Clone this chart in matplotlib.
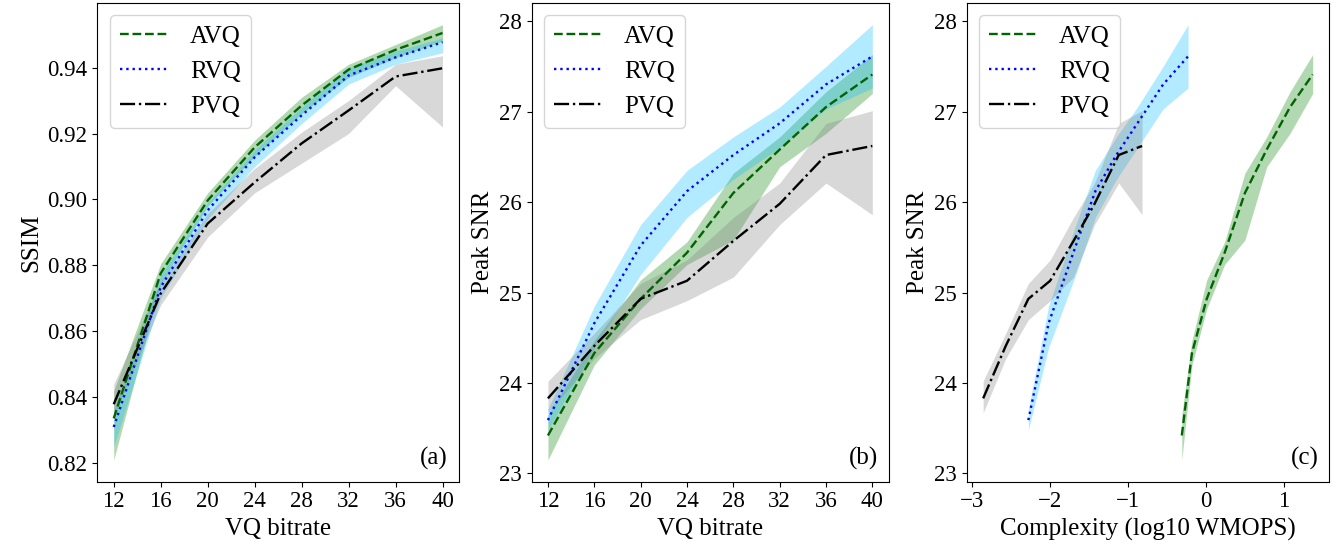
import numpy as np
import matplotlib
matplotlib.use("Agg")
import matplotlib.pyplot as plt

plt.rcParams["font.family"] = ["Liberation Serif", "DejaVu Serif"]
plt.rcParams["font.size"] = 16.5
plt.rcParams["axes.labelsize"] = 18
plt.rcParams["legend.fontsize"] = 18
plt.rcParams["axes.unicode_minus"] = True

# --- dados ---
bitrate = [12, 16, 20, 24, 28, 32, 36, 40]

# SSIM (painel a)
ssim_avq = [0.8336, 0.8776, 0.8997, 0.9158, 0.9285, 0.9394, 0.9454, 0.9505]
ssim_avq_lo = [0.821, 0.8745, 0.898, 0.913, 0.926, 0.937, 0.943, 0.948]
ssim_avq_hi = [0.842, 0.8805, 0.902, 0.918, 0.931, 0.941, 0.947, 0.953]

ssim_rvq = [0.8310, 0.8734, 0.8967, 0.9128, 0.9255, 0.9376, 0.9431, 0.9477]
ssim_rvq_lo = [0.825, 0.870, 0.894, 0.910, 0.923, 0.935, 0.941, 0.9445]
ssim_rvq_hi = [0.836, 0.877, 0.899, 0.915, 0.928, 0.940, 0.945, 0.9490]

ssim_pvq = [0.8379, 0.8715, 0.8927, 0.9052, 0.9170, 0.9270, 0.9373, 0.9398]
ssim_pvq_lo = [0.834, 0.868, 0.8886, 0.902, 0.911, 0.920, 0.9345, 0.922]
ssim_pvq_hi = [0.844, 0.875, 0.8957, 0.9094, 0.9204, 0.930, 0.941, 0.9436]

# Peak SNR (paineis b e c)
psnr_avq = [23.42, 24.33, 24.93, 25.44, 26.10, 26.58, 27.05, 27.41]
psnr_avq_lo = [23.15, 24.20, 24.82, 25.31, 25.58, 26.39, 26.76, 27.20]
psnr_avq_hi = [23.65, 24.47, 25.14, 25.56, 26.32, 26.72, 27.22, 27.63]

psnr_rvq = [23.59, 24.66, 25.52, 26.12, 26.52, 26.87, 27.30, 27.61]
psnr_rvq_lo = [23.48, 24.39, 25.20, 25.83, 26.25, 26.60, 27.03, 27.26]
psnr_rvq_hi = [23.71, 24.85, 25.75, 26.35, 26.72, 27.05, 27.50, 27.96]

psnr_pvq = [23.83, 24.41, 24.93, 25.13, 25.57, 25.98, 26.52, 26.62]
psnr_pvq_lo = [23.67, 24.27, 24.70, 24.91, 25.17, 25.75, 26.21, 25.86]
psnr_pvq_hi = [24.02, 24.55, 25.10, 25.36, 25.83, 26.21, 26.87, 27.01]

# complexidade (log10 WMOPS)
cplx_avq = [-0.31, -0.18, 0.01, 0.24, 0.50, 0.78, 1.08, 1.37]
cplx_rvq = [-2.28, -2.02, -1.67, -1.42, -1.15, -0.88, -0.55, -0.23]
cplx_pvq = [-2.86, -2.57, -2.28, -2.00, -1.70, -1.43, -1.12, -0.82]

# estilos
estilos = {
    "AVQ": dict(color="darkgreen", linestyle="--", fill="green"),
    "RVQ": dict(color="blue", linestyle=":", fill="deepskyblue"),
    "PVQ": dict(color="black", linestyle="-.", fill="gray"),
}


def desenha(ax, x_list, y_list, lo_list, hi_list):
    for nome, x, y, lo, hi in zip(["AVQ", "RVQ", "PVQ"], x_list, y_list, lo_list, hi_list):
        est = estilos[nome]
        ax.fill_between(x, lo, hi, color=est["fill"], alpha=0.3, linewidth=0)
        ax.plot(x, y, linestyle=est["linestyle"], color=est["color"], lw=1.7, label=nome)
    ax.legend(loc="upper left")


fig = plt.figure(figsize=(13.4, 5.52), dpi=100)
ax_a = fig.add_axes([0.0726, 0.1274, 0.2699, 0.8672])
ax_b = fig.add_axes([0.3968, 0.1274, 0.2663, 0.8672])
ax_c = fig.add_axes([0.7214, 0.1274, 0.2705, 0.8672])

desenha(
    ax_a,
    [bitrate] * 3,
    [ssim_avq, ssim_rvq, ssim_pvq],
    [ssim_avq_lo, ssim_rvq_lo, ssim_pvq_lo],
    [ssim_avq_hi, ssim_rvq_hi, ssim_pvq_hi],
)
ax_a.set_xticks(bitrate)
ax_a.set_xlabel("VQ bitrate")
ax_a.set_ylabel("SSIM")
ax_a.text(0.97, 0.035, "(a)", transform=ax_a.transAxes, ha="right", va="baseline", fontsize=18)

desenha(
    ax_b,
    [bitrate] * 3,
    [psnr_avq, psnr_rvq, psnr_pvq],
    [psnr_avq_lo, psnr_rvq_lo, psnr_pvq_lo],
    [psnr_avq_hi, psnr_rvq_hi, psnr_pvq_hi],
)
ax_b.set_xticks(bitrate)
ax_b.set_xlabel("VQ bitrate")
ax_b.set_ylabel("Peak SNR")
ax_b.text(0.97, 0.035, "(b)", transform=ax_b.transAxes, ha="right", va="baseline", fontsize=18)

desenha(
    ax_c,
    [cplx_avq, cplx_rvq, cplx_pvq],
    [psnr_avq, psnr_rvq, psnr_pvq],
    [psnr_avq_lo, psnr_rvq_lo, psnr_pvq_lo],
    [psnr_avq_hi, psnr_rvq_hi, psnr_pvq_hi],
)
ax_c.set_xticks([-3, -2, -1, 0, 1])
ax_c.set_xlabel("Complexity (log10 WMOPS)")
ax_c.set_ylabel("Peak SNR")
ax_c.text(0.97, 0.035, "(c)", transform=ax_c.transAxes, ha="right", va="baseline", fontsize=18)

fig.savefig("out.png", dpi=100)
